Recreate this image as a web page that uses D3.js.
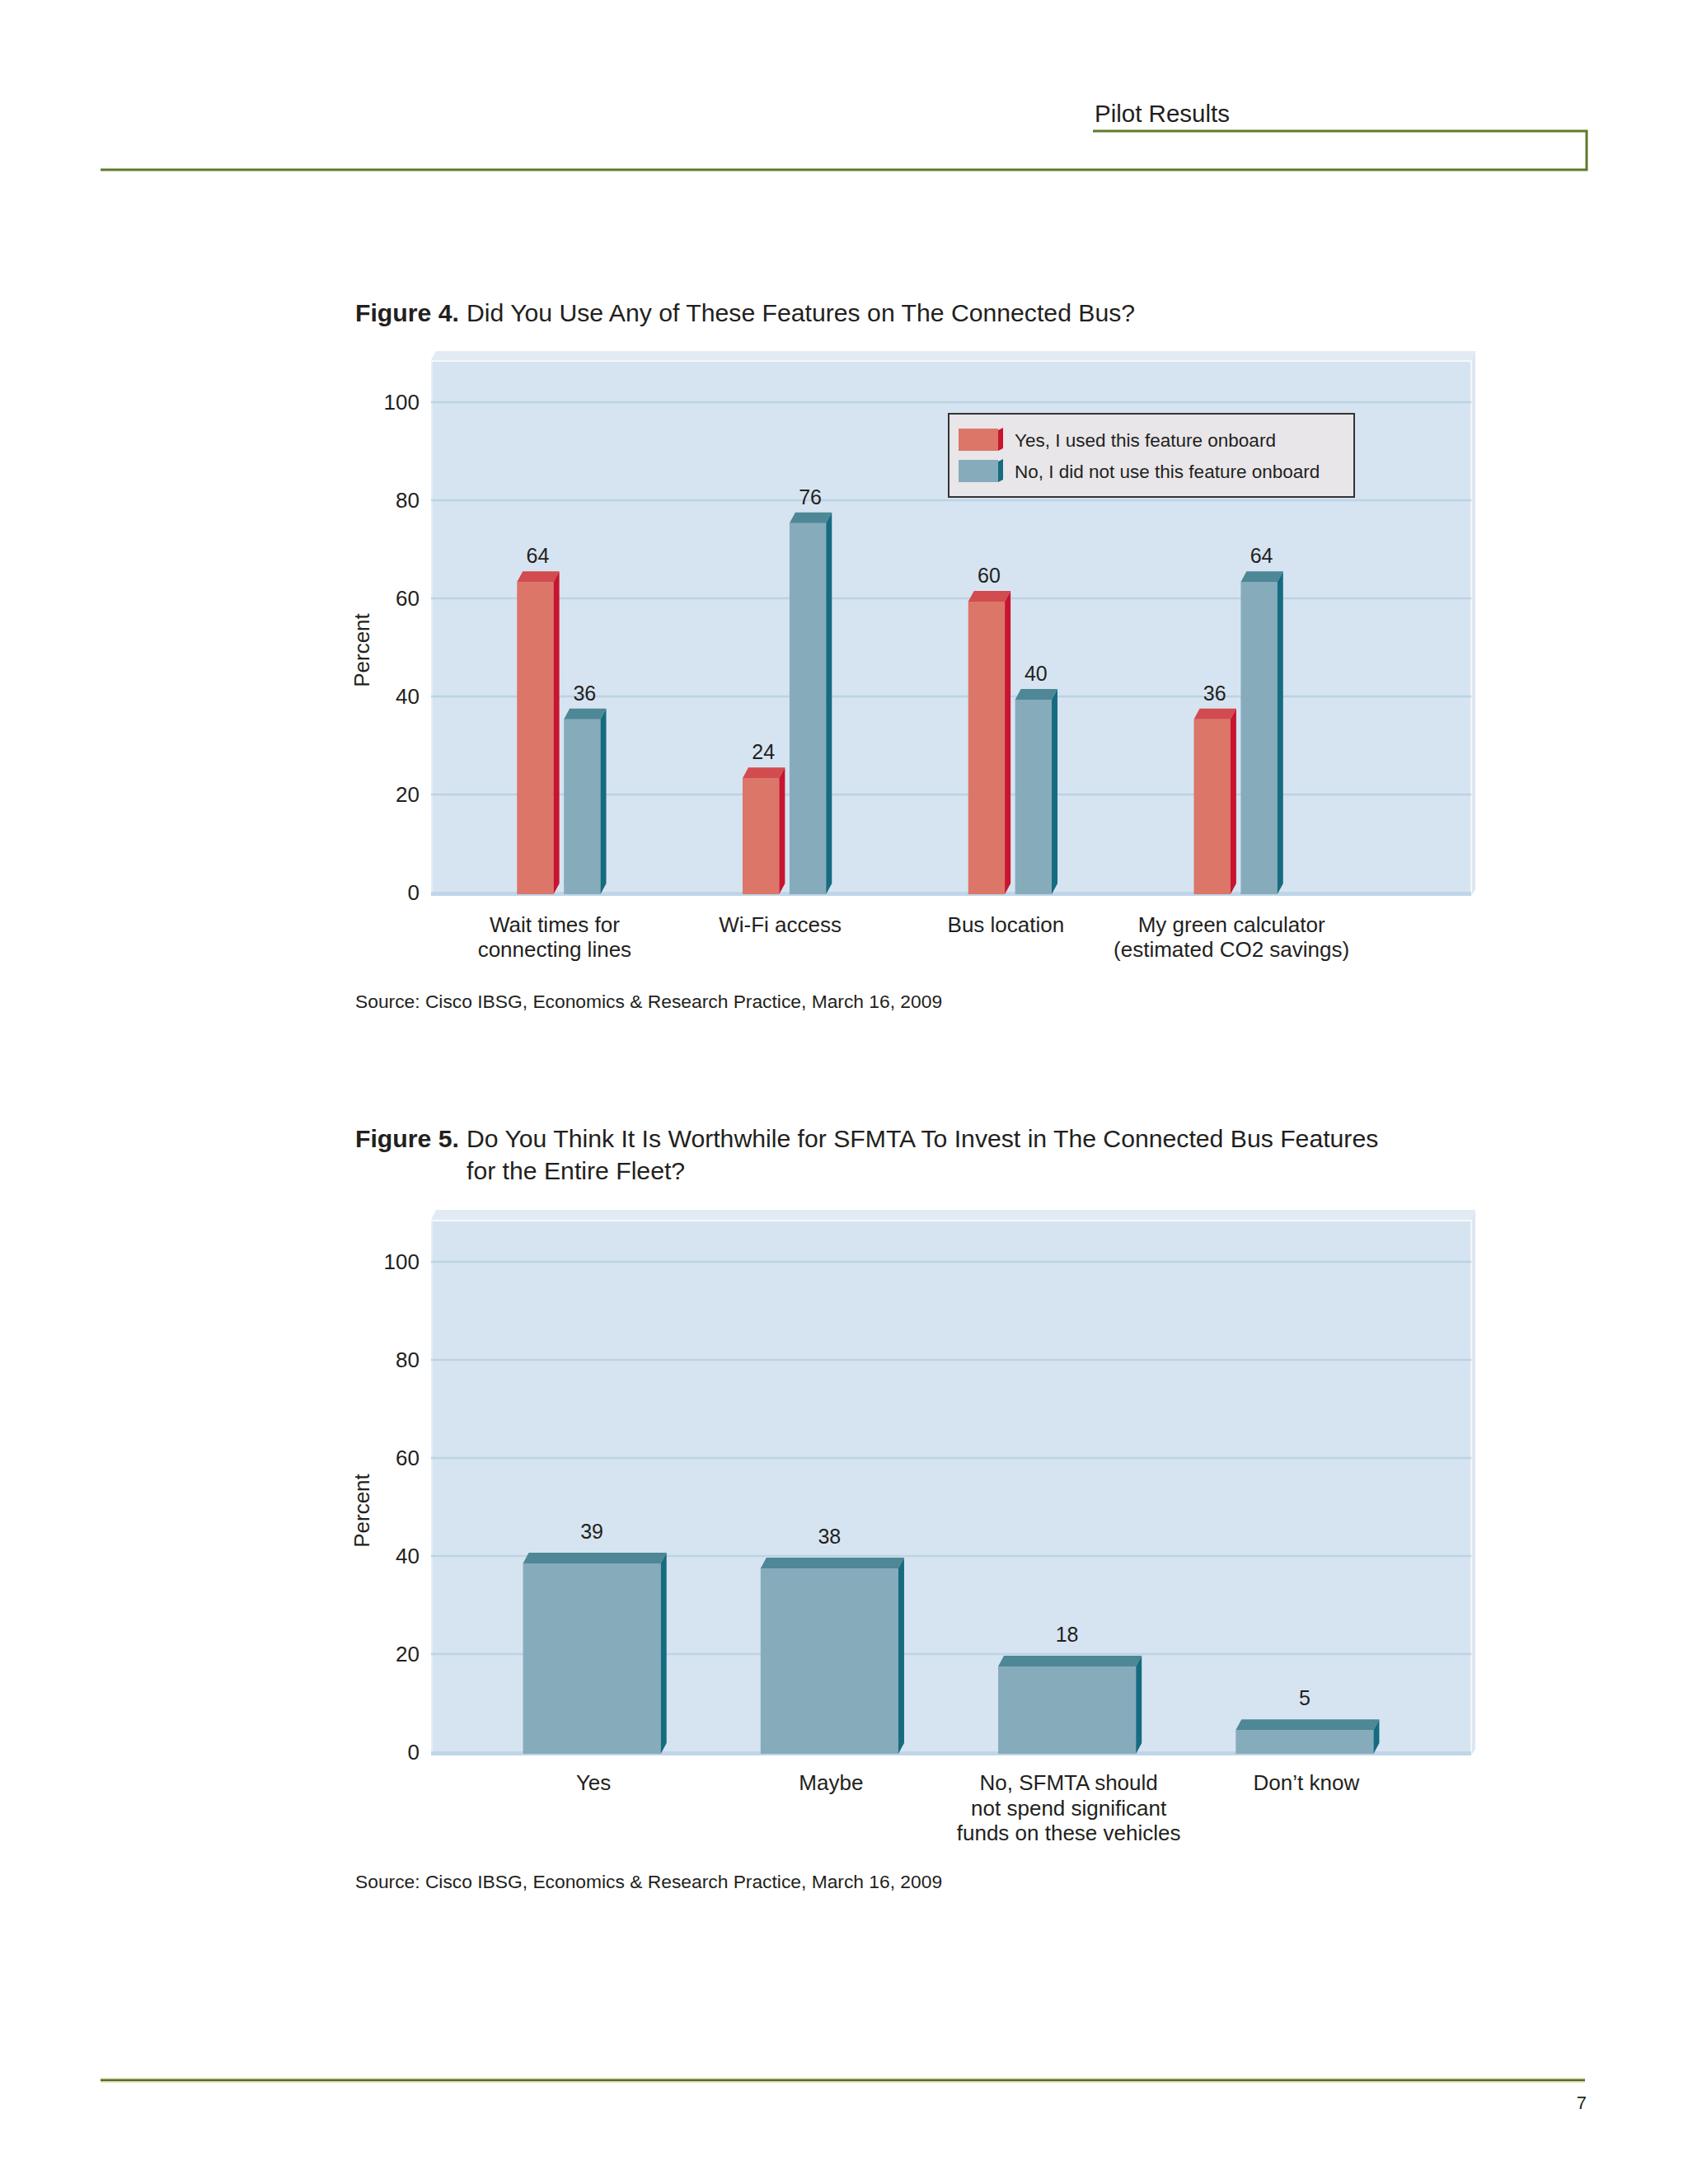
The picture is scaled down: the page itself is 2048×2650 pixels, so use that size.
<!DOCTYPE html>
<html><head><meta charset="utf-8">
<script src="https://cdn.jsdelivr.net/npm/d3@7"></script>
<style>
body{margin:0;background:#fff}
svg{display:block}
text{font-family:"Liberation Sans",Arial,Helvetica,sans-serif;fill:#231f20}
</style>
</head><body>
<svg id="c" width="2048" height="2650"></svg>
<script>
// ---------- data ----------
const headerText = "Pilot Results";
const fig4TitleLead = "Figure 4.";
const fig4Title = "Did You Use Any of These Features on The Connected Bus?";
const fig4Categories = ["Wait times for\nconnecting lines", "Wi-Fi access", "Bus location", "My green calculator\n(estimated CO2 savings)"];
const fig4Series = ["Yes, I used this feature onboard", "No, I did not use this feature onboard"];
const fig4Yes = [64, 24, 60, 36];
const fig4No = [36, 76, 40, 64];
const fig5TitleLead = "Figure 5.";
const fig5TitleLines = ["Do You Think It Is Worthwhile for SFMTA To Invest in The Connected Bus Features", "for the Entire Fleet?"];
const fig5Categories = ["Yes", "Maybe", "No, SFMTA should\nnot spend significant\nfunds on these vehicles", "Don\u2019t know"];
const fig5Values = [39, 38, 18, 5];
const yTicks = [0, 20, 40, 60, 80, 100];
const yLabel = "Percent";
const sourceText = "Source: Cisco IBSG, Economics & Research Practice, March 16, 2009";
const pageNumber = "7";

// ---------- styles ----------
const RED = {front:"#dc7668", top:"#d24b4e", side:"#c8142e"};
const TEAL = {front:"#86acbc", top:"#4e8796", side:"#176b80"};
const seriesColors = [RED, TEAL];
const OLIVE = "#5d7a2c";

const svg = d3.select("#c");

// ---------- header ----------
svg.append("text").attr("x", 1328).attr("y", 148).attr("font-size", 29.5).text(headerText);
svg.append("path")
  .attr("d", `M1326,159 H1925 V206 H122`)
  .attr("fill", "none").attr("stroke", OLIVE).attr("stroke-width", 3);

// ---------- footer ----------
svg.append("line").attr("x1", 122).attr("x2", 1923).attr("y1", 2524).attr("y2", 2524)
  .attr("stroke", "#c4d08e").attr("stroke-width", 5);
svg.append("line").attr("x1", 122).attr("x2", 1923).attr("y1", 2524).attr("y2", 2524)
  .attr("stroke", "#56682a").attr("stroke-width", 2);
svg.append("text").attr("x", 1925).attr("y", 2559).attr("text-anchor", "end")
  .attr("font-size", 22).attr("fill", "#333").text(pageNumber);

// ---------- helpers ----------
function drawPanel(g, x0, x1, stripTop, mainTop, floorY) {
  g.append("polygon")
    .attr("points", [[x0 + 6, stripTop], [x1 + 5, stripTop], [x1, mainTop - 2], [x0, mainTop - 2]].join(" "))
    .attr("fill", "#e2ebf4");
  g.append("rect").attr("x", x0).attr("y", mainTop).attr("width", x1 - x0).attr("height", floorY + 4 - mainTop)
    .attr("fill", "#d6e4f1");
  g.append("line").attr("x1", x0).attr("x2", x1).attr("y1", mainTop - 1).attr("y2", mainTop - 1)
    .attr("stroke", "#f5f8fb").attr("stroke-width", 2);
  g.append("line").attr("x1", x0 + 1).attr("x2", x0 + 1).attr("y1", mainTop).attr("y2", floorY + 4)
    .attr("stroke", "#e6eef6").attr("stroke-width", 2);
  g.append("polygon")
    .attr("points", [[x1, mainTop - 2], [x1 + 5, stripTop], [x1 + 5, floorY - 4], [x1, floorY + 4]].join(" "))
    .attr("fill", "#dbe6f1");
  g.append("line").attr("x1", x1).attr("x2", x1).attr("y1", mainTop - 2).attr("y2", floorY + 4)
    .attr("stroke", "#f3f7fb").attr("stroke-width", 2);
  g.append("rect").attr("x", x0).attr("y", floorY - 1).attr("width", x1 - x0).attr("height", 5)
    .attr("fill", "#bfd5e8");
}

function drawGridAndAxis(g, y, x0, x1) {
  g.selectAll("line.grid").data(yTicks.filter(t => t > 0)).join("line")
    .attr("class", "grid")
    .attr("x1", x0).attr("x2", x1)
    .attr("y1", d => y(d)).attr("y2", d => y(d))
    .attr("stroke", "#bdd2e4").attr("stroke-width", 2.5);
  const ax = g.append("g").attr("transform", `translate(${x0},0)`)
    .call(d3.axisLeft(y).tickValues(yTicks).tickSize(0).tickPadding(14).tickFormat(d3.format("d")));
  ax.select(".domain").remove();
  ax.selectAll("text").attr("font-size", 26).attr("fill", "#1a1a1a")
    .style("font-family", "\"Liberation Sans\",Arial,sans-serif");
}

function bar3d(g, x, w, yTop, yBase, c, dx, dy) {
  g.append("rect").attr("x", x).attr("y", yTop).attr("width", w).attr("height", yBase - yTop).attr("fill", c.front);
  g.append("polygon")
    .attr("points", [[x, yTop], [x + dx, yTop - dy], [x + w + dx, yTop - dy], [x + w, yTop]].join(" "))
    .attr("fill", c.top);
  g.append("polygon")
    .attr("points", [[x + w, yTop], [x + w + dx, yTop - dy], [x + w + dx, yBase - dy], [x + w, yBase]].join(" "))
    .attr("fill", c.side);
}

function multiLabel(g, x, yFirst, lineH, label) {
  const t = g.append("text").attr("text-anchor", "middle").attr("font-size", 26).attr("fill", "#111");
  label.split("\n").forEach((s, i) => {
    t.append("tspan").attr("x", x).attr("y", yFirst + i * lineH).text(s);
  });
}

function yAxisTitle(g, cx, cy) {
  g.append("text").attr("transform", `translate(${cx},${cy}) rotate(-90)`)
    .attr("text-anchor", "middle").attr("dominant-baseline", "middle")
    .attr("font-size", 26).attr("fill", "#1a1a1a").text(yLabel);
}

const X0 = 523, X1 = 1785, DX = 7, DY = 13;

// ---------- Figure 4 ----------
{
  const g = svg.append("g");
  g.append("text").attr("x", 431).attr("y", 390).attr("font-size", 30.2).attr("font-weight", "bold").text(fig4TitleLead);
  g.append("text").attr("x", 566).attr("y", 390).attr("font-size", 30.2).text(fig4Title);

  const floorY = 1083;
  const y = d3.scaleLinear().domain([0, 100]).range([floorY, 488]);
  drawPanel(g, X0, X1, 426, 439, floorY);
  drawGridAndAxis(g, y, X0, X1);
  yAxisTitle(g, 441, 789);

  const x0 = d3.scaleBand().domain(fig4Categories).range([541, 1636]).paddingInner(0.63).paddingOuter(0.315);
  const x1 = d3.scaleBand().domain(fig4Series).range([0, x0.bandwidth()]).paddingInner(0.22);
  const seriesValues = [fig4Yes, fig4No];

  fig4Categories.forEach((cat, i) => {
    fig4Series.forEach((s, j) => {
      const v = seriesValues[j][i];
      const bx = x0(cat) + x1(s), bw = x1.bandwidth();
      const top = y(v) + 4;
      bar3d(g, bx, bw, top, y(0) + 2, seriesColors[j], DX, DY);
      g.append("text").attr("x", bx + bw / 2 + 3).attr("y", top - DY - 10)
        .attr("text-anchor", "middle").attr("font-size", 25).attr("fill", "#333").text(v);
    });
    multiLabel(g, x0(cat) + x0.bandwidth() / 2 - 5, 1131, 30, cat);
  });

  // legend
  const lg = g.append("g");
  lg.append("rect").attr("x", 1151).attr("y", 502).attr("width", 492).attr("height", 101)
    .attr("fill", "#e8e6e9").attr("stroke", "#333").attr("stroke-width", 2);
  fig4Series.forEach((s, j) => {
    const cy = 534 + j * 38;
    const c = seriesColors[j];
    lg.append("rect").attr("x", 1163).attr("y", cy - 14).attr("width", 48).attr("height", 27).attr("fill", c.front);
    lg.append("polygon")
      .attr("points", [[1211, cy - 12], [1217, cy - 15], [1217, cy + 10], [1211, cy + 13]].join(" "))
      .attr("fill", c.side);
    lg.append("text").attr("x", 1231).attr("y", cy + 8).attr("font-size", 22.5).attr("fill", "#222").text(s);
  });

  g.append("text").attr("x", 431).attr("y", 1223).attr("font-size", 22.8).text(sourceText);
}

// ---------- Figure 5 ----------
{
  const g = svg.append("g");
  g.append("text").attr("x", 431).attr("y", 1392).attr("font-size", 30.2).attr("font-weight", "bold").text(fig5TitleLead);
  fig5TitleLines.forEach((l, i) => {
    g.append("text").attr("x", 566).attr("y", 1392 + i * 39).attr("font-size", 30.2).text(l);
  });

  const floorY = 2126;
  const y = d3.scaleLinear().domain([0, 100]).range([floorY, 1531]);
  drawPanel(g, X0, X1, 1468, 1482, floorY);
  drawGridAndAxis(g, y, X0, X1);
  yAxisTitle(g, 441, 1833);

  const x = d3.scaleBand().domain(fig5Categories).range([574, 1727]).paddingInner(0.42).paddingOuter(0.21);
  fig5Categories.forEach((cat, i) => {
    const v = fig5Values[i];
    const bx = x(cat), bw = x.bandwidth();
    const top = y(v) + 3;
    bar3d(g, bx, bw, top, y(0) + 2, TEAL, DX, DY);
    g.append("text").attr("x", bx + bw / 2).attr("y", top - DY - 17)
      .attr("text-anchor", "middle").attr("font-size", 25).attr("fill", "#333").text(v);
    multiLabel(g, bx + bw / 2 + 2, 2172, 30.5, cat);
  });

  g.append("text").attr("x", 431).attr("y", 2291).attr("font-size", 22.8).text(sourceText);
}
</script>
</body></html>
